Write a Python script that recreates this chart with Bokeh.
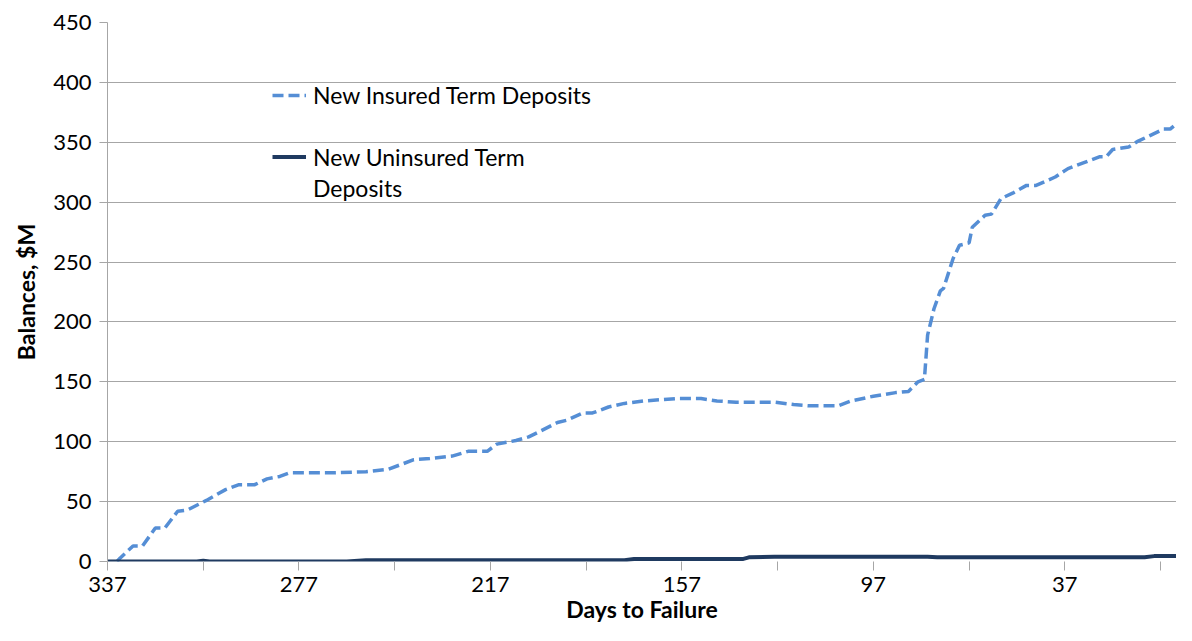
from bokeh.plotting import figure
from bokeh.models import Range1d, FixedTicker, Legend, LegendItem
from bokeh.embed import file_html
from bokeh.resources import INLINE

# ---- data (days to failure, balances $M) ----
insured_days = [334, 333, 329, 326, 322, 319, 315, 312, 306, 300, 296, 291, 287, 283, 280,
                267, 256, 249, 241, 236, 229, 224, 218, 215, 209, 205, 196, 193, 188, 185,
                180, 175, 169, 159, 151, 146, 140, 128, 122, 117, 108, 104, 97, 90, 86,
                83, 81, 80, 78, 76, 75, 72, 70, 67, 66, 62, 60, 57, 53, 49, 46, 40, 36,
                31, 26, 24, 22, 17, 14, 10, 6, 4, 0]
insured_vals = [0, 3, 13, 13, 28, 28, 42, 43, 51, 60, 64, 64, 69, 71, 74,
                74, 75, 77, 85, 86, 88, 92, 92, 98, 101, 104, 116, 118, 124, 124,
                129, 132, 134, 136, 136, 134, 133, 133, 131, 130, 130, 134, 138, 141, 142,
                150, 152, 189, 211, 226, 228, 253, 264, 266, 279, 289, 290, 303, 308, 314, 314, 321, 328,
                333, 338, 338, 344, 346, 351, 356, 361, 361, 370]

uninsured_days = [337, 309, 307, 305, 262, 256, 175, 172, 138, 136, 128, 80, 77, 12, 9, 0]
uninsured_vals = [0, 0, 0.6, 0, 0, 1, 1, 2, 2, 3.5, 4, 4, 3.5, 3.5, 4.5, 4.5]

x_ticks = [337, 307, 277, 247, 217, 187, 157, 127, 97, 67, 37, 7]
x_tick_labels = ["337", "", "277", "", "217", "", "157", "", "97", "", "37", ""]
y_ticks = [0, 50, 100, 150, 200, 250, 300, 350, 400, 450]

series_names = ["New Insured Term Deposits", "New Uninsured Term", "Deposits"]

FONT = "Lato"
GRAY = "#A6A6A6"

p = figure(width=1176, height=625, output_backend="svg", toolbar_location=None,
           x_range=Range1d(337, 2), y_range=Range1d(0, 450),
           min_border_left=107, min_border_top=22, min_border_right=0, min_border_bottom=60)
p.outline_line_color = None
p.background_fill_color = "white"
p.border_fill_color = "white"

p.xgrid.visible = False
p.ygrid.grid_line_color = GRAY
p.ygrid.grid_line_width = 1

# y axis
p.yaxis.ticker = FixedTicker(ticks=y_ticks)
p.yaxis.axis_line_color = GRAY
p.yaxis.major_tick_line_color = GRAY
p.yaxis.major_tick_out = 8
p.yaxis.major_tick_in = 0
p.yaxis.minor_tick_line_color = None
p.yaxis.major_label_text_font = FONT
p.yaxis.major_label_text_font_size = "22px"
p.yaxis.major_label_text_color = "black"
p.yaxis.major_label_standoff = 8
p.yaxis.axis_label = "Balances, $M"
p.yaxis.axis_label_text_font = FONT
p.yaxis.axis_label_text_font_style = "bold"
p.yaxis.axis_label_text_font_size = "23px"
p.yaxis.axis_label_text_color = "black"
p.yaxis.axis_label_standoff = 10

# x axis
p.xaxis.ticker = FixedTicker(ticks=x_ticks)
p.xaxis.major_label_overrides = {t: l for t, l in zip(x_ticks, x_tick_labels)}
p.xaxis.axis_line_color = None
p.xaxis.major_tick_line_color = GRAY
p.xaxis.major_tick_out = 9
p.xaxis.major_tick_in = 0
p.xaxis.minor_tick_line_color = None
p.xaxis.major_label_text_font = FONT
p.xaxis.major_label_text_font_size = "22px"
p.xaxis.major_label_text_color = "black"
p.xaxis.major_label_standoff = 6
p.xaxis.axis_label = "Days to Failure"
p.xaxis.axis_label_text_font = FONT
p.xaxis.axis_label_text_font_style = "bold"
p.xaxis.axis_label_text_font_size = "23px"
p.xaxis.axis_label_text_color = "black"
p.xaxis.axis_label_standoff = 0

r_ins = p.line(insured_days, insured_vals, line_color="#558ED5", line_width=3.5,
               line_dash="11 5")
r_unins = p.line(uninsured_days, uninsured_vals, line_color="#1F3A60", line_width=4)
r_dummy = p.line(uninsured_days, uninsured_vals, line_alpha=0)

common = dict(border_line_color=None, background_fill_alpha=0, padding=0, margin=0,
              spacing=0, glyph_width=34, label_standoff=7,
              label_text_font=FONT, label_text_font_size="23px", label_text_color="black")

leg_a = Legend(items=[LegendItem(label=series_names[0], renderers=[r_ins])],
               location=(165, 452), label_height=28, glyph_height=28, **common)
leg_b = Legend(items=[LegendItem(label=series_names[1], renderers=[r_unins]),
                      LegendItem(label=series_names[2], renderers=[r_dummy])],
               location=(165, 358), label_height=31, glyph_height=31, **common)
p.add_layout(leg_a, "center")
p.add_layout(leg_b, "center")

open("out.html", "w").write(file_html(p, INLINE))
